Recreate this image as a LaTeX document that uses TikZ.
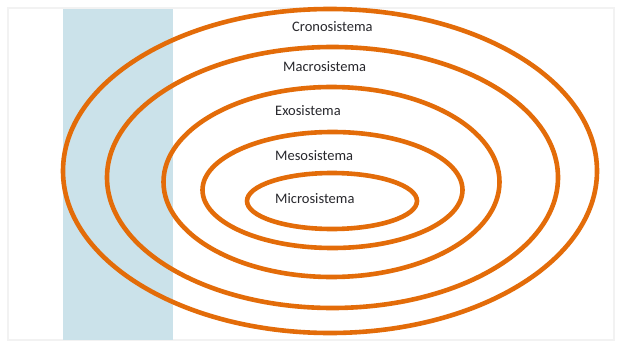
\documentclass[tikz,border=0pt]{standalone}
\usepackage{fontspec}
\setmainfont{Carlito}
\definecolor{ringorange}{RGB}{227,108,9}
\definecolor{panelblue}{RGB}{203,226,234}
\definecolor{labelgray}{RGB}{40,40,45}
\begin{document}
\begin{tikzpicture}[x=1pt,y=-1pt,
  ring/.style={draw=ringorange,line width=4.6pt},
  lbl/.style={anchor=west,inner sep=0pt,text=labelgray,font=\fontsize{14.5}{16}\selectfont}]
\useasboundingbox (0,0) rectangle (618,345);
\fill[white] (0,0) rectangle (618,345);
\draw[black!5,line width=1.2pt] (8,8) rectangle (614,340);
\fill[panelblue] (63,9) rectangle (173,340);
\draw[ring] (330,171) circle [x radius=267, y radius=162];
\draw[ring] (332.5,177.5) circle [x radius=225.5, y radius=130.5];
\draw[ring] (331.5,182) circle [x radius=168, y radius=95];
\draw[ring] (332.5,190) circle [x radius=130, y radius=58];
\draw[ring] (332,201) circle [x radius=85, y radius=28];
\node[lbl] (crono) at (292,27) {Cronosistema};
\node[lbl] (macro) at (283,67) {Macrosistema};
\node[lbl] (exo) at (275,111) {Exosistema};
\node[lbl] (meso) at (275,156) {Mesosistema};
\node[lbl] (micro) at (275,199) {Microsistema};
\end{tikzpicture}
\end{document}
